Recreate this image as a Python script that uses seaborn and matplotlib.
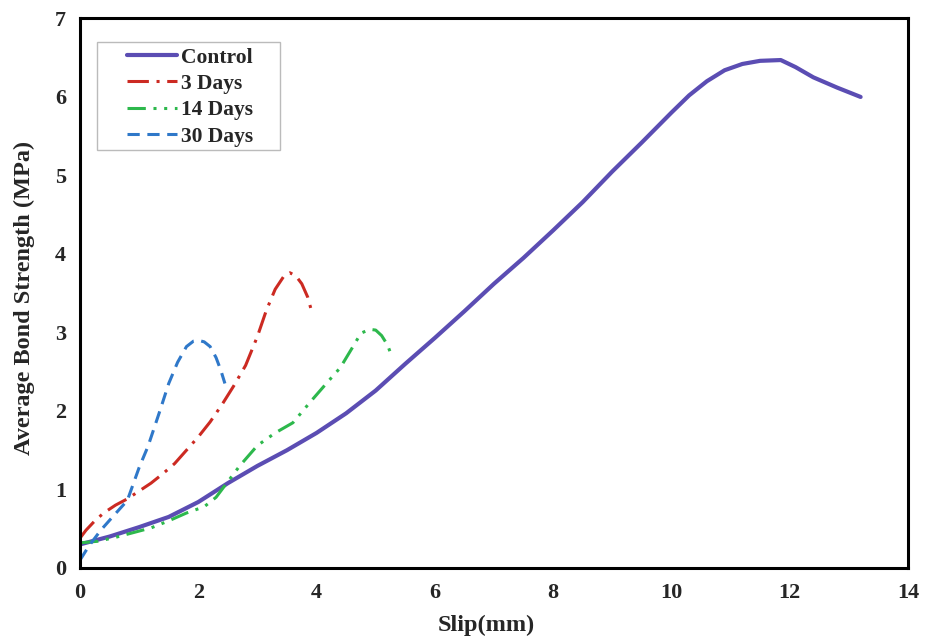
import matplotlib
matplotlib.use("Agg")
import matplotlib.pyplot as plt
from matplotlib.patches import Rectangle
import seaborn as sns
import pandas as pd

# Bond strength vs slip curves
control_x = [0, 0.5, 1, 1.5, 2, 2.5, 3, 3.5, 4, 4.5, 5, 5.5, 6, 6.5, 7, 7.5, 8, 8.5,
             9, 9.5, 10, 10.3, 10.6, 10.9, 11.2, 11.5, 11.85, 12.1, 12.4, 12.8, 13.2]
control_y = [0.30, 0.40, 0.52, 0.65, 0.84, 1.08, 1.30, 1.50, 1.72, 1.97, 2.26, 2.60, 2.93,
             3.27, 3.62, 3.95, 4.30, 4.66, 5.05, 5.42, 5.80, 6.02, 6.20, 6.34, 6.42, 6.46,
             6.47, 6.38, 6.25, 6.12, 6.00]

days3_x = [0, 0.1, 0.25, 0.4, 0.6, 0.8, 1.0, 1.2, 1.4, 1.6, 1.8, 2.0, 2.2, 2.4, 2.6, 2.8,
           3.0, 3.15, 3.3, 3.45, 3.55, 3.65, 3.75, 3.85, 3.92]
days3_y = [0.38, 0.48, 0.60, 0.70, 0.80, 0.88, 0.98, 1.08, 1.20, 1.33, 1.50, 1.67, 1.86,
           2.08, 2.32, 2.58, 2.95, 3.28, 3.55, 3.72, 3.76, 3.72, 3.62, 3.45, 3.26]

days14_x = [0, 0.3, 0.6, 0.9, 1.2, 1.5, 1.8, 2.1, 2.3, 2.5, 2.7, 3.0, 3.3, 3.6, 3.9, 4.2,
            4.4, 4.6, 4.75, 4.9, 5.0, 5.1, 5.2, 5.25]
days14_y = [0.32, 0.34, 0.39, 0.45, 0.51, 0.60, 0.70, 0.78, 0.90, 1.10, 1.30, 1.56, 1.72,
            1.85, 2.12, 2.38, 2.55, 2.80, 2.99, 3.04, 3.03, 2.96, 2.84, 2.74]

days30_x = [0, 0.15, 0.35, 0.55, 0.8, 1.0, 1.15, 1.35, 1.5, 1.65, 1.8, 1.92, 2.0, 2.1,
            2.2, 2.3, 2.38, 2.45]
days30_y = [0.10, 0.28, 0.48, 0.65, 0.86, 1.28, 1.55, 2.00, 2.35, 2.62, 2.82, 2.89, 2.90,
            2.88, 2.82, 2.68, 2.52, 2.35]

labels = ["Control", "3 Days", "14 Days", "30 Days"]
colors = ["#5B4DB3", "#CC2A22", "#2DB84C", "#2F78C9"]
styles = ["-", (0, (7, 2.5, 1, 2.5)), (0, (6, 2.5, 1, 2.5, 1, 2.5)), (0, (4, 2.5))]
widths = [3.0, 2.2, 2.2, 2.2]
xs = [control_x, days3_x, days14_x, days30_x]
ys = [control_y, days3_y, days14_y, days30_y]

sns.set_style("white")
plt.rcParams["font.family"] = ["Liberation Serif", "DejaVu Serif"]
plt.rcParams["font.weight"] = "bold"

fig = plt.figure(figsize=(9.36, 6.36), dpi=100)
ax = fig.add_axes([0.0855, 0.107, 0.8845, 0.864])

for x, y, lab, c, ls, lw in zip(xs, ys, labels, colors, styles, widths):
    df = pd.DataFrame({"Slip": x, "Strength": y})
    sns.lineplot(data=df, x="Slip", y="Strength", ax=ax, color=c, linewidth=lw,
                 linestyle=ls, label=lab, estimator=None, sort=False)

ax.set_xlim(0, 14)
ax.set_ylim(0, 7)
ax.set_xticks(range(0, 15, 2))
ax.set_yticks(range(0, 8))
ax.tick_params(axis="both", length=0, labelsize=16)
ax.tick_params(axis="x", pad=11)
ax.tick_params(axis="y", pad=10)
for t in ax.get_xticklabels() + ax.get_yticklabels():
    t.set_fontweight("bold")

ax.set_xlabel("Slip(mm)", fontsize=17.5, fontweight="bold")
ax.set_ylabel("Average Bond Strength (MPa)", fontsize=17.5, fontweight="bold")
ax.xaxis.set_label_coords(0.4903, -0.085)
ax.yaxis.set_label_coords(-0.054, 0.491)

for s in ax.spines.values():
    s.set_visible(True)
    s.set_color("black")
    s.set_linewidth(2.2)

# legend box drawn as its own frame, entries placed inside it
ax.add_patch(Rectangle((0.0205, 0.761), 0.221, 0.196, transform=ax.transAxes,
                       facecolor="white", edgecolor="#BBBBBB", linewidth=1.0, zorder=4))
leg = ax.legend(loc="upper left", bbox_to_anchor=(0.0565, 0.947),
                prop={"weight": "bold", "size": 15.5}, frameon=False,
                handlelength=2.35, handletextpad=0.15, labelspacing=0.29,
                borderpad=0, borderaxespad=0)
leg.set_zorder(5)

fig.savefig("out.png", dpi=100)
